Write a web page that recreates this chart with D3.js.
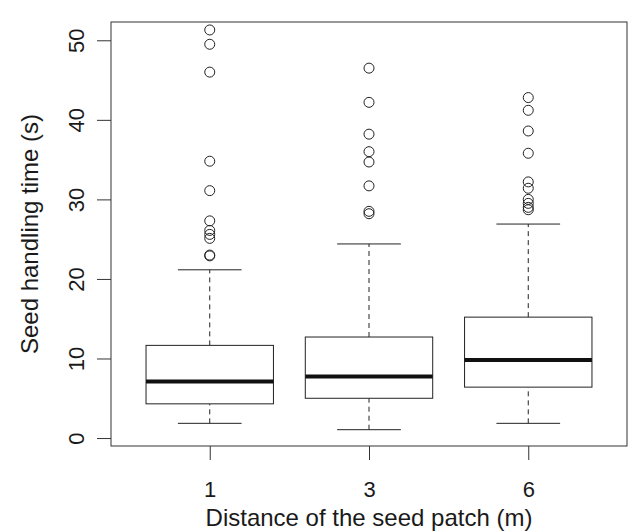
<!DOCTYPE html>
<html>
<head>
<meta charset="utf-8">
<script src="https://cdn.jsdelivr.net/npm/d3@7"></script>
<style>
  body { margin: 0; background: #fff; }
  svg text { font-family: "Liberation Sans", Arial, sans-serif; fill: #1a1a1a; }
</style>
</head>
<body>
<div id="chart"></div>
<script>
const categories = ["1", "3", "6"];
const lowerWhisker = [1.85, 1.05, 1.85];
const q1 = [4.3, 5.0, 6.4];
const medians = [7.1, 7.75, 9.8];
const q3 = [11.65, 12.7, 15.2];
const upperWhisker = [21.15, 24.4, 26.9];
const outliers1 = [51.3, 49.5, 46.0, 34.8, 31.1, 27.3, 26.1, 25.6, 25.1, 23.0, 22.9];
const outliers3 = [46.5, 42.2, 38.2, 36.0, 34.7, 31.7, 28.5, 28.2];
const outliers6 = [42.8, 41.2, 38.6, 35.8, 32.2, 31.4, 30.0, 29.5, 29.0, 28.7];
const yTicks = [0, 10, 20, 30, 40, 50];

const outliers = [outliers1, outliers3, outliers6];
const boxes = categories.map((c, i) => ({
  cat: c,
  pos: i + 1,
  lo: lowerWhisker[i],
  q1: q1[i],
  med: medians[i],
  q3: q3[i],
  hi: upperWhisker[i],
  out: outliers[i]
}));

const width = 633;
const height = 532;
const frame = { left: 111, right: 627, top: 22, bottom: 446 };

const svg = d3.select("#chart")
  .append("svg")
  .attr("width", width)
  .attr("height", height);

// R style: positions 1..3, xlim 0.5..3.5 padded 4%
const x = d3.scaleLinear()
  .domain([0.38, 3.62])
  .range([frame.left, frame.right]);

const y = d3.scaleLinear()
  .domain([-1.0, 52.3])
  .range([frame.bottom, frame.top]);

const boxW = 0.8;
const capW = 0.4;

const g = svg.append("g");

// whiskers (dashed)
g.selectAll(".whisker-lo")
  .data(boxes)
  .enter()
  .append("line")
  .attr("x1", (d) => x(d.pos))
  .attr("x2", (d) => x(d.pos))
  .attr("y1", (d) => y(d.lo))
  .attr("y2", (d) => y(d.q1))
  .attr("stroke", "#222")
  .attr("stroke-width", 1)
  .attr("stroke-dasharray", "5,4");

g.selectAll(".whisker-hi")
  .data(boxes)
  .enter()
  .append("line")
  .attr("x1", (d) => x(d.pos))
  .attr("x2", (d) => x(d.pos))
  .attr("y1", (d) => y(d.q3))
  .attr("y2", (d) => y(d.hi))
  .attr("stroke", "#222")
  .attr("stroke-width", 1)
  .attr("stroke-dasharray", "5,4");

// caps
["lo", "hi"].forEach((k) => {
  g.selectAll(".cap-" + k)
    .data(boxes)
    .enter()
    .append("line")
    .attr("x1", (d) => x(d.pos - capW / 2))
    .attr("x2", (d) => x(d.pos + capW / 2))
    .attr("y1", (d) => y(d[k]))
    .attr("y2", (d) => y(d[k]))
    .attr("stroke", "#222")
    .attr("stroke-width", 1);
});

// boxes
g.selectAll(".box")
  .data(boxes)
  .enter()
  .append("rect")
  .attr("x", (d) => x(d.pos - boxW / 2))
  .attr("y", (d) => y(d.q3))
  .attr("width", (d) => x(d.pos + boxW / 2) - x(d.pos - boxW / 2))
  .attr("height", (d) => y(d.q1) - y(d.q3))
  .attr("fill", "white")
  .attr("stroke", "#222")
  .attr("stroke-width", 1);

// medians
g.selectAll(".median")
  .data(boxes)
  .enter()
  .append("line")
  .attr("x1", (d) => x(d.pos - boxW / 2))
  .attr("x2", (d) => x(d.pos + boxW / 2))
  .attr("y1", (d) => y(d.med))
  .attr("y2", (d) => y(d.med))
  .attr("stroke", "#111")
  .attr("stroke-width", 4);

// outliers
boxes.forEach((b) => {
  g.selectAll(null)
    .data(b.out)
    .enter()
    .append("circle")
    .attr("cx", x(b.pos))
    .attr("cy", (d) => y(d))
    .attr("r", 5)
    .attr("fill", "none")
    .attr("stroke", "#222")
    .attr("stroke-width", 1);
});

// frame
svg.append("rect")
  .attr("x", frame.left)
  .attr("y", frame.top)
  .attr("width", frame.right - frame.left)
  .attr("height", frame.bottom - frame.top)
  .attr("fill", "none")
  .attr("stroke", "#333")
  .attr("stroke-width", 1);

// y axis
const yAxis = svg.append("g")
  .attr("transform", `translate(${frame.left},0)`)
  .call(d3.axisLeft(y).tickValues(yTicks).tickSize(14).tickFormat(d3.format("d")));
yAxis.select(".domain").remove();
yAxis.selectAll("line").attr("stroke", "#333");
yAxis.selectAll("text")
  .attr("x", null)
  .attr("dy", null)
  .attr("transform", "translate(-27,0) rotate(-90)")
  .attr("text-anchor", "middle")
  .style("font-size", "22px")
  .style("font-family", "Liberation Sans, Arial, sans-serif")
  .attr("fill", "#1a1a1a");

// x axis
const xAxis = svg.append("g")
  .attr("transform", `translate(0,${frame.bottom})`)
  .call(d3.axisBottom(x).tickValues(boxes.map((b) => b.pos)).tickSize(14)
    .tickFormat((d) => categories[d - 1]));
xAxis.select(".domain").remove();
xAxis.selectAll("line").attr("stroke", "#333");
xAxis.selectAll("text")
  .attr("y", 51)
  .attr("dy", null)
  .style("font-size", "22px")
  .style("font-family", "Liberation Sans, Arial, sans-serif")
  .attr("fill", "#1a1a1a");

// axis titles
svg.append("text")
  .attr("x", (frame.left + frame.right) / 2)
  .attr("y", 526)
  .attr("text-anchor", "middle")
  .style("font-size", "24px")
  .text("Distance of the seed patch (m)");

svg.append("text")
  .attr("transform", `translate(38,${(frame.top + frame.bottom) / 2}) rotate(-90)`)
  .attr("text-anchor", "middle")
  .style("font-size", "24px")
  .text("Seed handling time (s)");
</script>
</body>
</html>
